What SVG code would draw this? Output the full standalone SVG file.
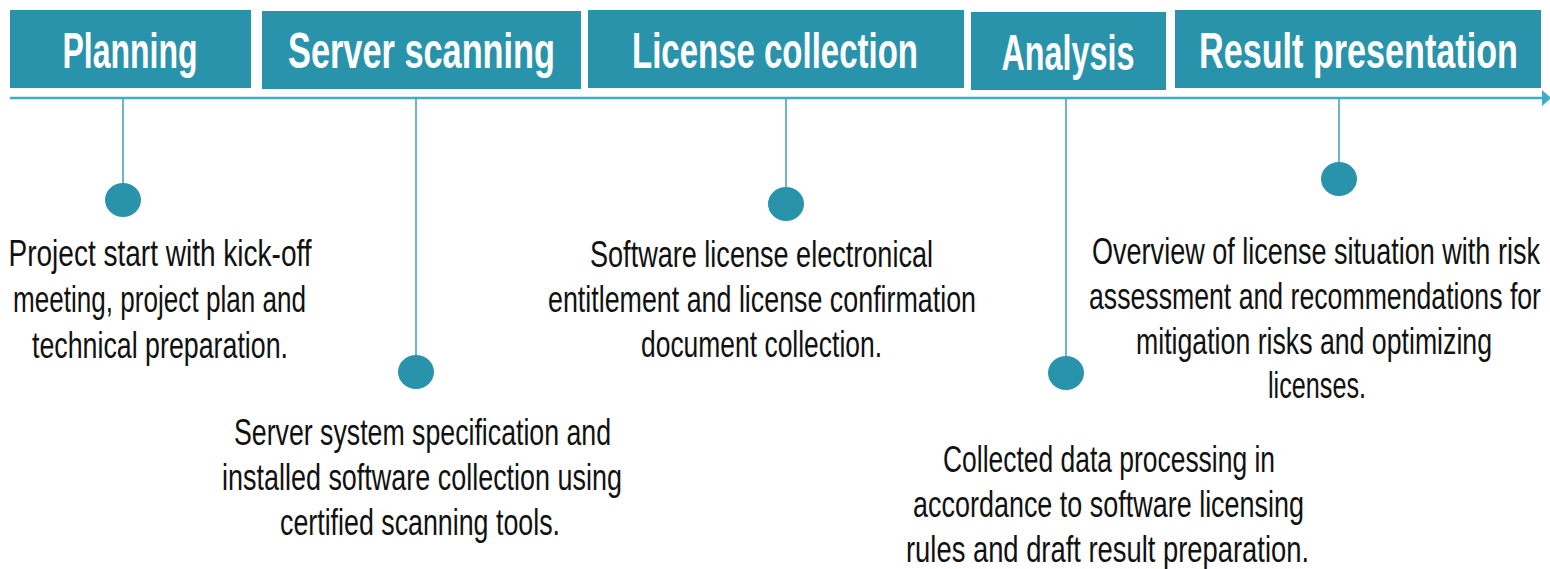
<svg xmlns="http://www.w3.org/2000/svg" width="1550" height="569" viewBox="0 0 1550 569">
  <style>
    .box { fill: #2A93AC; }
    .hd { font-family: "Liberation Sans", Arial, sans-serif; font-weight: bold; font-size: 50px; fill: #FFFFFF; text-anchor: middle; }
    .bd { font-family: "Liberation Sans", Arial, sans-serif; font-size: 37px; fill: #111111; text-anchor: middle; }
    .dot { fill: #2A93AC; }
    .stem { stroke: #3A9FB8; stroke-width: 1.5; fill: none; }
    .axis { stroke: #3DADC8; stroke-width: 2.5; fill: none; }
  </style>
  <defs>
    <marker id="arrow" markerWidth="9" markerHeight="16" refX="0" refY="8" orient="auto" markerUnits="userSpaceOnUse">
      <path d="M0,0 L9,8 L0,16 Z" fill="#3DADC8"/>
    </marker>
  </defs>
  <rect width="1550" height="569" fill="#FFFFFF"/>

  <g id="connectors">
    <line class="axis" x1="10" y1="98" x2="1542" y2="98" marker-end="url(#arrow)"/>
    <line class="stem" x1="123" y1="99" x2="123" y2="184"/>
    <line class="stem" x1="416" y1="99" x2="416" y2="356"/>
    <line class="stem" x1="786" y1="99" x2="786" y2="188"/>
    <line class="stem" x1="1066" y1="99" x2="1066" y2="357"/>
    <line class="stem" x1="1339" y1="99" x2="1339" y2="163"/>
  </g>

  <g id="hdr-planning">
    <rect class="box" x="10" y="10" width="241" height="78"/>
    <text class="hd" transform="translate(130,68) scale(0.67,1)" x="0" y="0" textLength="201.5" lengthAdjust="spacingAndGlyphs">Planning</text>
  </g>
  <g id="hdr-server-scanning">
    <rect class="box" x="262" y="11" width="319" height="78"/>
    <text class="hd" transform="translate(421.5,68) scale(0.67,1)" x="0" y="0" textLength="398.5" lengthAdjust="spacingAndGlyphs">Server scanning</text>
  </g>
  <g id="hdr-license-collection">
    <rect class="box" x="588" y="10" width="376" height="78"/>
    <text class="hd" transform="translate(775,68) scale(0.67,1)" x="0" y="0" textLength="426.9" lengthAdjust="spacingAndGlyphs">License collection</text>
  </g>
  <g id="hdr-analysis">
    <rect class="box" x="971" y="12" width="195" height="78"/>
    <text class="hd" transform="translate(1068,70) scale(0.67,1)" x="0" y="0" textLength="198.5" lengthAdjust="spacingAndGlyphs">Analysis</text>
  </g>
  <g id="hdr-result-presentation">
    <rect class="box" x="1175" y="10" width="366" height="78"/>
    <text class="hd" transform="translate(1358.5,68) scale(0.67,1)" x="0" y="0" textLength="476.1" lengthAdjust="spacingAndGlyphs">Result presentation</text>
  </g>

  <g id="step-planning">
    <ellipse class="dot" cx="123" cy="200" rx="18" ry="17"/>
    <text class="bd" transform="translate(160,266) scale(0.74,1)" x="0" y="0" textLength="409.5" lengthAdjust="spacingAndGlyphs">Project start with kick-off</text>
    <text class="bd" transform="translate(159.5,312) scale(0.74,1)" x="0" y="0" textLength="395.9" lengthAdjust="spacingAndGlyphs">meeting, project plan and</text>
    <text class="bd" transform="translate(160,358) scale(0.74,1)" x="0" y="0" textLength="345.9" lengthAdjust="spacingAndGlyphs">technical preparation.</text>
  </g>
  <g id="step-server-scanning">
    <ellipse class="dot" cx="416" cy="372" rx="18" ry="17"/>
    <text class="bd" transform="translate(422.5,445) scale(0.74,1)" x="0" y="0" textLength="509.5" lengthAdjust="spacingAndGlyphs">Server system specification and</text>
    <text class="bd" transform="translate(422,490) scale(0.74,1)" x="0" y="0" textLength="540.5" lengthAdjust="spacingAndGlyphs">installed software collection using</text>
    <text class="bd" transform="translate(420,535) scale(0.74,1)" x="0" y="0" textLength="378.4" lengthAdjust="spacingAndGlyphs">certified scanning tools.</text>
  </g>
  <g id="step-license-collection">
    <ellipse class="dot" cx="786" cy="204" rx="18" ry="17"/>
    <text class="bd" transform="translate(761.5,267) scale(0.74,1)" x="0" y="0" textLength="463.5" lengthAdjust="spacingAndGlyphs">Software license electronical</text>
    <text class="bd" transform="translate(762,312) scale(0.74,1)" x="0" y="0" textLength="578.4" lengthAdjust="spacingAndGlyphs">entitlement and license confirmation</text>
    <text class="bd" transform="translate(761.5,357) scale(0.74,1)" x="0" y="0" textLength="325.7" lengthAdjust="spacingAndGlyphs">document collection.</text>
  </g>
  <g id="step-analysis">
    <ellipse class="dot" cx="1066" cy="373" rx="18" ry="17"/>
    <text class="bd" transform="translate(1109,472) scale(0.74,1)" x="0" y="0" textLength="448.6" lengthAdjust="spacingAndGlyphs">Collected data processing in</text>
    <text class="bd" transform="translate(1108.5,517) scale(0.74,1)" x="0" y="0" textLength="528.4" lengthAdjust="spacingAndGlyphs">accordance to software licensing</text>
    <text class="bd" transform="translate(1107.5,562) scale(0.74,1)" x="0" y="0" textLength="544.6" lengthAdjust="spacingAndGlyphs">rules and draft result preparation.</text>
  </g>
  <g id="step-result-presentation">
    <ellipse class="dot" cx="1339" cy="179" rx="18" ry="17"/>
    <text class="bd" transform="translate(1316,264) scale(0.74,1)" x="0" y="0" textLength="605.4" lengthAdjust="spacingAndGlyphs">Overview of license situation with risk</text>
    <text class="bd" transform="translate(1315,309) scale(0.74,1)" x="0" y="0" textLength="610.8" lengthAdjust="spacingAndGlyphs">assessment and recommendations for</text>
    <text class="bd" transform="translate(1314,354) scale(0.74,1)" x="0" y="0" textLength="481.1" lengthAdjust="spacingAndGlyphs">mitigation risks and optimizing</text>
    <text class="bd" transform="translate(1317,398) scale(0.74,1)" x="0" y="0" textLength="132.4" lengthAdjust="spacingAndGlyphs">licenses.</text>
  </g>
</svg>
